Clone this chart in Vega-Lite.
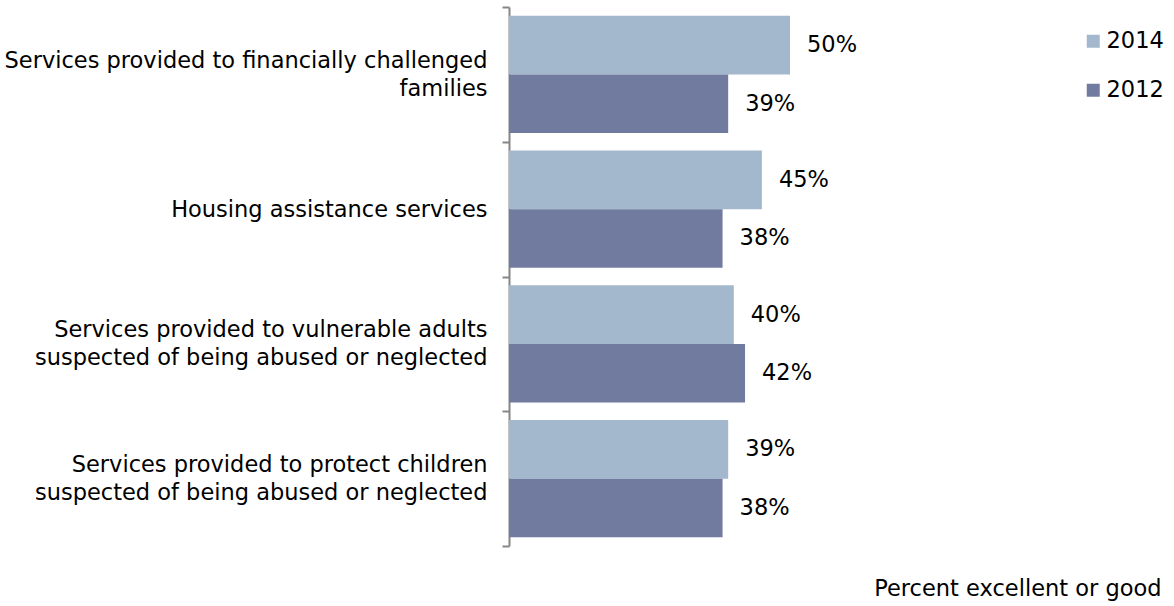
{
  "$schema": "https://vega.github.io/schema/vega-lite/v6.json",
  "autosize": "none",
  "width": 562,
  "height": 539,
  "padding": {"left": 509, "top": 7, "right": 103, "bottom": 60},
  "background": "white",
  "config": {
    "view": {"stroke": null},
    "font": "DejaVu Sans"
  },
  "data": {
    "values": [
      {"service": "Services provided to financially challenged families", "year": "2014", "pct": 0.50},
      {"service": "Services provided to financially challenged families", "year": "2012", "pct": 0.39},
      {"service": "Housing assistance services", "year": "2014", "pct": 0.45},
      {"service": "Housing assistance services", "year": "2012", "pct": 0.38},
      {"service": "Services provided to vulnerable adults suspected of being abused or neglected", "year": "2014", "pct": 0.40},
      {"service": "Services provided to vulnerable adults suspected of being abused or neglected", "year": "2012", "pct": 0.42},
      {"service": "Services provided to protect children suspected of being abused or neglected", "year": "2014", "pct": 0.39},
      {"service": "Services provided to protect children suspected of being abused or neglected", "year": "2012", "pct": 0.38}
    ]
  },
  "encoding": {
    "y": {
      "field": "service",
      "type": "nominal",
      "sort": null,
      "scale": {"paddingInner": 0, "paddingOuter": 0},
      "axis": {
        "title": null,
        "tickBand": "extent",
        "domainColor": "#868686",
        "domainWidth": 2,
        "tickColor": "#868686",
        "tickWidth": 2,
        "tickSize": 7,
        "labelPadding": 15,
        "labelFontSize": 22.5,
        "labelColor": "#000000",
        "labelLimit": 520,
        "labelLineHeight": 28,
        "labelOffset": {"condition": {"test": "datum.value == 'Housing assistance services'", "value": 0}, "value": -14},
        "labelExpr": "datum.value == 'Services provided to financially challenged families' ? ['Services provided to financially challenged', 'families'] : datum.value == 'Services provided to vulnerable adults suspected of being abused or neglected' ? ['Services provided to vulnerable adults', 'suspected of being abused or neglected'] : datum.value == 'Services provided to protect children suspected of being abused or neglected' ? ['Services provided to protect children', 'suspected of being abused or neglected'] : datum.value"
      }
    },
    "yOffset": {
      "field": "year",
      "type": "nominal",
      "sort": ["2014", "2012"],
      "scale": {"paddingOuter": 0.151, "paddingInner": 0}
    },
    "x": {
      "field": "pct",
      "type": "quantitative",
      "scale": {"domain": [0, 1]},
      "axis": {
        "labels": false,
        "ticks": false,
        "domain": false,
        "grid": false,
        "title": "Percent excellent or good",
        "titleFontSize": 22.5,
        "titleFontWeight": "normal",
        "titleColor": "#000000",
        "titleAlign": "right",
        "titleAnchor": "end",
        "titleBaseline": "middle",
        "titleX": 652,
        "titleY": 42
      }
    }
  },
  "layer": [
    {
      "mark": {"type": "bar"},
      "encoding": {
        "color": {
          "field": "year",
          "type": "nominal",
          "scale": {"domain": ["2014", "2012"], "range": ["#a3b8cd", "#717ba0"]},
          "legend": {
            "title": null,
            "orient": "none",
            "legendX": 573,
            "legendY": 23,
            "symbolType": "square",
            "symbolSize": 169,
            "labelFontSize": 22.5,
            "labelColor": "#000000",
            "labelOffset": 2,
            "rowPadding": 26
          }
        }
      }
    },
    {
      "mark": {"type": "text", "align": "left", "baseline": "middle", "dx": 17, "fontSize": 22.5, "color": "#000000"},
      "encoding": {
        "text": {"field": "pct", "type": "quantitative", "format": ".0%"},
        "detail": {"field": "year"}
      }
    }
  ]
}
